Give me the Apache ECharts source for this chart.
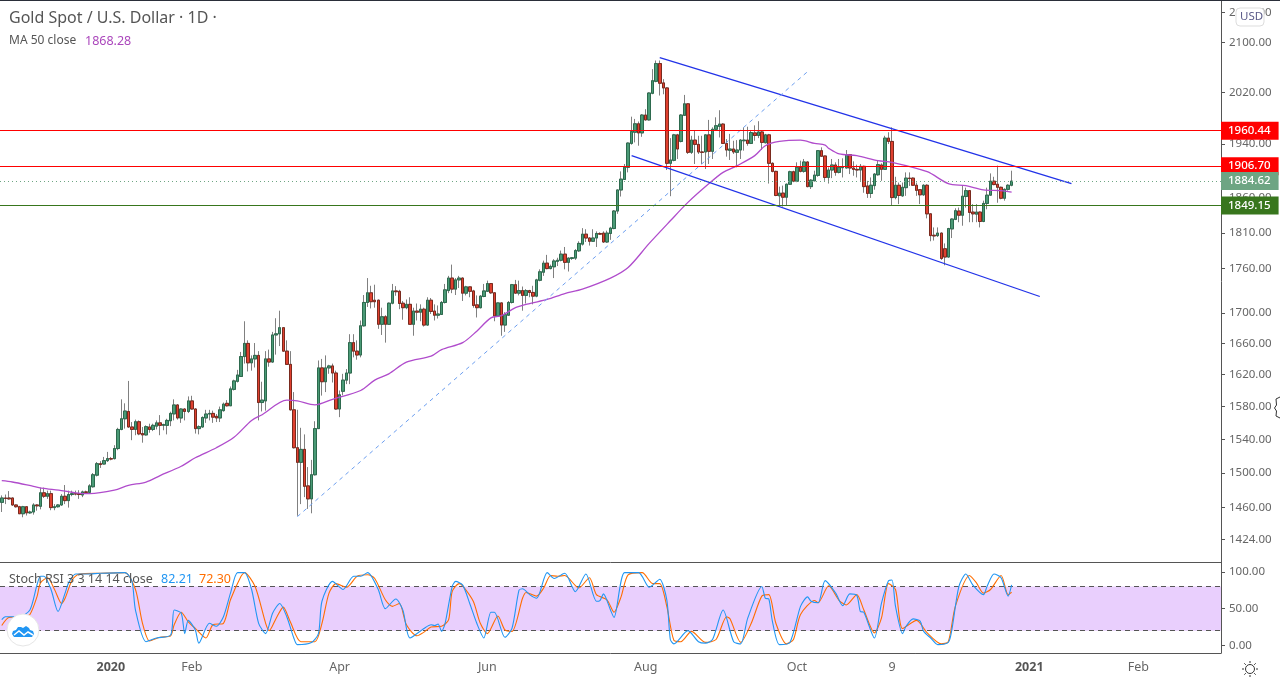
<!DOCTYPE html>
<html><head><meta charset="utf-8">
<style>html,body{margin:0;padding:0;background:#fff}#c{width:1280px;height:680px}</style>
<script src="https://cdn.jsdelivr.net/npm/echarts@6/dist/echarts.min.js"></script>
</head><body><div id="c"></div>
<script>
const opens=[1466,1471,1471,1471,1463,1461,1453,1461,1454,1455,
1463,1461.5,1477,1473,1476,1460,1461,1463,1473,1468,
1475,1476,1476,1474.5,1478,1477.5,1484,1497.5,1511,1510.6,
1514.6,1517,1517,1529,1552,1565,1574,1555,1552,1561.4,
1547,1545.4,1555,1552,1556,1560,1557,1557,1562.6,1571,
1582,1566,1577,1574,1587,1577,1553,1555,1566,1570.8,
1571.6,1568,1566,1575,1584,1581,1601.4,1611.5,1617.6,1643,
1660,1635,1640,1644.5,1585,1587,1640,1636,1671,1672.5,
1680.5,1650,1633,1576,1530,1512.6,1528,1485,1470,1498,
1553,1628.5,1611,1628.5,1631,1622,1577,1599,1613,1622,
1661,1650,1645,1683,1714,1727,1717,1717,1685,1695,
1685,1713,1729.5,1729,1713,1707,1711.5,1685,1702.5,1701,
1705,1684,1717,1702.5,1697,1698,1714,1730,1747,1732,
1744.5,1747,1726.5,1735,1729.5,1710.8,1707,1722,1729,1739.5,
1727,1696,1713.4,1684,1697,1714,1738,1726.5,1730,1723.5,
1730,1727.5,1722.5,1744,1755,1767.5,1760,1762.5,1770,1771.5,
1780,1768.6,1774,1774.5,1784.6,1794,1808,1802.6,1798,1802.6,
1809,1809.5,1797,1809,1816,1841,1871.6,1887,1905,1941,
1958,1971,1957,1984.5,1977,2018.5,2037.5,2066,2035,2027,
1911,1915.5,1954,1944,1984,2002,1927.5,1946,1939.5,1928,
1928,1954,1929,1962.5,1967,1970.5,1941,1930.5,1932.5,1927.5,
1931,1945,1946,1941,1957,1953,1958.4,1942,1954,1911,
1899,1863,1867,1861,1880,1898.5,1884.5,1905,1899,1913,
1876.5,1885,1893,1930,1922,1890,1901,1908.5,1897.5,1904.5,
1904,1924,1904,1902,1901,1906.5,1877.5,1866.5,1878,1894,
1908.5,1902,1949,1944,1860.5,1878.5,1863,1875,1889,1889,
1878.5,1872,1864.5,1878.5,1837,1806.5,1806,1809.5,1787.5,1776,
1815.5,1829,1841,1835,1862,1870.6,1839.5,1836.5,1839.5,1826,
1852,1864,1884.5,1880,1875.5,1859.5,1872.5,1878.5];
const closes=[1471,1470.5,1470,1463,1461,1453,1461,1454,1455,1463,
1462,1477,1473,1476,1460,1461,1463,1473,1468,1475,
1476,1475.5,1475,1478,1477.5,1485,1498,1511,1510,1514.6,
1517,1516.5,1529,1552,1565,1574.5,1555,1552,1561.4,1546.6,
1545.4,1555.4,1552,1557,1560,1557,1558,1563,1571.6,1582,
1566,1577,1574,1587,1577,1553,1555.4,1566.6,1570.8,1571.6,
1567,1566,1576,1583,1581,1602,1612,1619.5,1643,1660,
1635,1640,1644.5,1585,1588,1640,1636,1671,1672.5,1680.5,
1650,1633,1576,1530,1512.6,1528,1484.5,1470,1498,1553,
1628.5,1611,1628.5,1631,1622,1577,1594.6,1613,1622,1661,
1650,1645,1683,1714,1727,1715,1715,1685,1695,1685,
1713,1729.5,1728.5,1712.6,1707,1711.5,1685,1702.5,1701,1705,
1684,1717,1702,1697,1698.6,1714,1731,1747,1732,1744.5,
1747,1726.5,1735,1729,1710,1707,1722.5,1729.5,1739.5,1727,
1696,1713.4,1684,1697.7,1714,1738,1726.5,1730,1723.5,1730,
1727.5,1722.5,1744.5,1755.6,1767.5,1760,1763,1770.5,1771.5,1780,
1768.6,1774.5,1775,1785,1795,1808,1802.6,1798,1802.6,1809,
1808,1797,1809.5,1816.6,1841,1871.6,1887.5,1905,1941.5,1959,
1971,1957,1984.5,1977,2019,2038.5,2066,2034.5,2027,1911,
1916,1954,1932.5,1984.5,2002,1927.5,1946,1939.5,1928,1927.5,
1954,1929,1962.5,1968,1970.5,1941,1931,1932.5,1928,1931,
1946,1946,1941,1957.5,1953,1958.4,1942.5,1954,1911,1899,
1863.5,1867,1861,1880,1898.5,1884.5,1905,1899,1913,1876.5,
1886,1893.5,1930,1921.5,1890,1901,1908.5,1897.5,1905,1905,
1924,1904,1902,1901,1906.5,1876.5,1866.5,1878.5,1895,1909,
1902,1949,1944,1860.5,1878.5,1863.5,1875.5,1889,1888.5,1878.5,
1871,1864.5,1878.5,1837,1806,1805.5,1809.5,1774,1776,1816,
1829.5,1841.5,1835,1862.5,1870.6,1839,1837,1839.5,1826,1852,
1864,1884.5,1879.5,1875.5,1859.5,1872.5,1878.5,1884.62];
const lows=[1455,1464,1469,1462,1460,1453,1449,1451,1453,1452,
1456.5,1458,1471,1470,1457,1457,1460,1462,1464,1460,
1473,1474,1470,1472,1476,1476,1483,1496,1506,1510,
1513,1515,1516,1527,1551,1553,1554,1539,1545,1545,
1536,1544.6,1548,1550,1552,1545,1551,1546,1556,1563,
1564,1560,1563,1572,1576,1547,1546,1554,1560,1563,
1560,1561,1561,1573.7,1580,1581,1600,1610,1617,1634,
1624,1625,1629,1563,1574,1575,1630,1635,1645.5,1656.5,
1649,1632.5,1575,1529,1450.7,1464,1472,1458.5,1453.5,1497,
1553,1593.6,1598,1621,1610,1576,1567,1594,1608,1608,
1642,1639,1642,1682,1708,1706,1707,1679,1671,1661,
1684.5,1711.5,1723,1705,1691,1705,1684.5,1670,1690,1689,
1682,1683,1698.6,1690,1692.6,1697.5,1712.6,1726.5,1726.5,1724,
1733.5,1716,1723.5,1721,1707,1694,1706,1721,1728,1725.5,
1689,1695,1670,1675,1696,1712.6,1725.5,1723.5,1703,1712.6,
1721,1711.5,1721,1742.6,1750,1759,1759,1747,1763.5,1770,
1759,1756,1772,1772,1783,1792,1797,1792,1797,1790,
1807,1795.6,1795.6,1800,1815,1837,1862,1886.5,1897.5,1939,
1942.5,1937.5,1951,1976,1976,2017,2036,2015,2017,1901,
1862.5,1914,1917.5,1942.5,1983,1925,1925,1910,1925,1910,
1902.5,1910,1917.5,1960.4,1950,1940,1921,1916,1925,1905,
1917.5,1930,1937.5,1940,1945,1949,1931,1941,1881,1897.5,
1862.5,1848.5,1847.5,1848.5,1879,1883,1883,1897.5,1897,1875.5,
1873,1884.5,1891,1921,1885,1881,1889,1892.5,1896,1890,
1903.5,1895,1892.5,1890,1885,1867.5,1860,1860,1872,1892.5,
1885,1901.5,1940,1848.5,1858,1851,1861.5,1863,1877.5,1877.5,
1863,1851,1863,1830.5,1798,1799,1804,1772,1764.5,1775,
1802.5,1828,1825,1820,1846,1825,1825,1825,1817.6,1825,
1843.5,1863,1878.5,1853,1858,1856,1870.6,1877];
const highs=[1474,1475,1479,1471.5,1463.5,1462,1462,1461,1456.5,1465,
1464,1483,1483,1479.5,1479.5,1464,1464,1475.5,1486,1479.5,
1479.5,1479.5,1480,1479.5,1479.5,1487,1500,1513,1514,1519,
1525,1519,1533,1554,1589,1584,1612,1561,1564,1563,
1555,1557,1559,1559,1563,1569.5,1559,1565,1573.7,1589,
1583,1578,1578,1592.6,1593.4,1578,1557,1568,1576,1576,
1575,1570.8,1580,1585,1588,1605,1613.6,1626,1649,1689,
1664,1644.5,1660.5,1650,1611,1650,1652,1675,1693,1703,
1681,1664,1650,1598,1576,1554,1546,1507,1515.5,1562,
1638,1640,1644.5,1632.5,1634,1625,1600,1621,1627,1672,
1672,1664,1690,1724,1747,1736.5,1738,1718,1707,1697,
1714,1739,1736,1731,1716,1718,1721,1707,1712.6,1711.5,
1707,1721,1720,1711.5,1710,1716,1739,1750,1765.5,1747,
1750,1748,1736.5,1735.5,1731,1723.5,1724,1739,1743.5,1740,
1728,1714,1714,1701,1716,1739,1744.5,1743.5,1735.5,1732,
1731,1736.5,1746,1759,1771,1779,1765.5,1773,1775,1785,
1790,1775.6,1776,1787,1798,1816.6,1815,1803.6,1815,1812,
1810.6,1812,1813,1818.5,1842.5,1872,1899,1910,1942.5,1982,
1978.5,1974.5,1986,1993.6,2020,2057,2071,2071,2041,2028,
1949,1955.5,1955.5,1986,2016,2003,1952.6,1960.4,1952.6,1952.6,
1954.5,1977,1965.5,1981,1992,1972,1947.5,1955.5,1945,1946,
1947.5,1965.5,1966.5,1961.4,1968.6,1975,1960.4,1955.5,1955.5,1912.5,
1900,1876.5,1878,1881,1900,1900,1912.5,1915,1917.5,1914,
1887.5,1900,1931,1935,1922.5,1905,1917.5,1912.5,1917.5,1918.5,
1931,1925,1914,1909,1910,1907.5,1885,1890,1896.5,1915,
1911,1952.6,1958,1965.5,1891,1882.5,1882.5,1897.5,1897.5,1890,
1882.5,1873,1880,1880,1838,1817.6,1817.6,1810.5,1795,1817,
1830.5,1845,1846,1877.5,1875,1871.6,1851,1851,1840.5,1856,
1875,1896,1891,1907.5,1876.5,1874,1880,1900];

const maBars=[0,3,9,12,18,21,25,32,36,41,45,51,55,61,66,71,74,81,84,89,94,102,106,110,115,122,125,131,135,139,142,146,150,155,160,165,173,178,184,190,195,201,205,209,214,217,221,227,231,234,235,238,243,249,253,263,269,274,279,284,287];
const maValues=[1491,1489.5,1484.5,1482,1479,1477,1476,1480,1485.5,1489.5,1497,1508,1518,1530,1542.5,1563,1570,1588,1587,1582,1589,1600,1613,1621,1636,1643.5,1652,1661,1676,1693.5,1696.5,1707,1712.5,1718,1726,1732,1747,1761.5,1795,1827,1853.5,1881,1897.5,1907.5,1922.5,1937.5,1944,1946,1941,1938.5,1933.5,1925,1922.5,1915,1912.5,1898.5,1881,1877.8,1871.6,1870.6,1868.28];

const kBars=[0,1,5,8,10,11,12,14,16,18,19,21,24,28,35,37,38,41,44,48,49,51,52,53,55,56,59,61,63,65,67,69,71,73,75,77,79,81,83,84,88,90,91,94,97,100,102,104,107,109,112,114,116,120,122,123,124,125,126,128,129,131,133,135,137,139,140,143,145,147,148,150,152,155,157,160,163,166,169,170,171,173,174,177,181,184,185,187,189,190,191,195,198,200,202,205,208,210,212,216,217,218,219,221,224,227,229,230,232,234,237,239,241,243,244,245,248,250,252,253,254,256,257,259,261,262,264,266,269,270,272,274,276,279,280,282,284,286,287];
const kValues=[35,39,39,48,82,94,94,76,46,71,85,97,97,98,99,87,48,5,10,14,48,44,16,34,21,3,30,26,39,71,99,99,76,30,16,44,57,39,10,1,4,16,60,87,76,94,94,99,76,50,63,48,10,23,28,27,29,19,30,80,87,82,57,30,10,45,45,11,23,75,77,69,64,99,91,98,73,97,60,61,70,48,38,99,99,79,82,90,62,8,2,20,5,3,8,48,5,2,37,80,64,63,33,1,4,53,66,60,58,88,71,54,70,68,46,45,10,57,88,89,53,16,26,36,33,19,10,1,4,21,80,97,82,69,80,97,92,67,82.21];
const dBars=[0,2,6,8,10,11,13,15,17,18,20,22,28,35,38,40,42,45,48,49,51,53,55,58,60,63,65,68,69,72,75,76,78,80,82,85,89,91,93,95,98,101,104,106,109,111,113,115,118,120,122,125,127,128,130,131,134,136,138,141,143,145,148,149,152,154,156,158,160,164,167,169,172,174,176,178,182,185,187,189,191,193,196,200,203,206,207,210,213,216,218,220,223,225,227,231,232,235,238,240,243,245,248,250,252,254,256,260,263,267,269,271,275,277,279,281,284,286,287];
const dValues=[27,38,39,42,66,85,92,76,57,64,89,97,98,99,76,30,6,11,13,28,45,32,23,10,28,30,62,94,99,80,30,20,37,52,32,5,5,30,71,84,79,94,96,91,62,53,57,28,13,18,25,26,35,73,84,81,60,30,16,40,21,19,64,72,67,78,95,94,95,78,92,69,62,45,66,96,99,84,84,53,7,5,19,4,8,39,36,4,30,67,69,30,2,8,42,61,58,81,61,55,69,48,17,37,84,76,23,34,17,2,5,53,95,85,71,76,95,69,72.30];

const tickBars=[31,54,96,138,183,226,253,292,323];
const tickLabels=['2020','Feb','Apr','Jun','Aug','Oct','9','2021','Feb'];
const boldTicks=['2020','2021'];
const priceTicks=[2150,2100,2020,1940,1860,1810,1760,1700,1660,1620,1580,1540,1500,1460,1424];
const stochTicks=[0,50,100];
const barCount=347;
const categories=Array.from({length:barCount},(_,i)=>{const t=tickBars.indexOf(i);return t<0?String(i):tickLabels[t];});

const upperChannel=[[187,2075.5],[304,1881]];
const lowerChannel=[[179,1922.4],[295,1722]];
const dashedTrend=[[84,1449.7],[229,2053]];
const resistance=[1960.44,1906.70];
const support=1849.15;
const lastPrice=1884.62;

const FONT='"Noto Sans",sans-serif';
const wickData=opens.map((o,i)=>[o,closes[i],lows[i],highs[i]]);
const bodyData=opens.map((o,i)=>[o,closes[i],Math.min(o,closes[i]),Math.max(o,closes[i])]);
const tag=(bg)=>({show:true,position:'end',distance:0,formatter:p=>p.value.toFixed(2),color:'#fff',backgroundColor:bg,padding:[3,8,3,7],fontSize:11.5,fontFamily:FONT,fontWeight:500});
const lineSeries=(d,c,w,type)=>({type:'line',data:d,xAxisIndex:0,yAxisIndex:0,showSymbol:false,symbol:'none',silent:true,lineStyle:{color:c,width:w,type:type||'solid'},z:6,animation:false});
const gearRays=[[1250,661,1250,663],[1250,675,1250,677],[1242,669,1244,669],[1256,669,1258,669],[1244.3,663.3,1245.8,664.8],[1254.2,673.2,1255.7,674.7],[1244.3,674.7,1245.8,673.2],[1254.2,664.8,1255.7,663.3]];

const chart=echarts.init(document.getElementById('c'),null,{renderer:'canvas'});
chart.setOption({
 animation:false,backgroundColor:'#fff',
 grid:[{left:0,top:1,width:1221,height:561},{left:0,top:562,width:1221,height:91}],
 xAxis:[
  {type:'category',gridIndex:0,data:categories,boundaryGap:true,axisLine:{onZero:false,lineStyle:{color:'#555',width:1}},axisTick:{show:false},axisLabel:{show:false},splitLine:{show:false}},
  {type:'category',gridIndex:1,data:categories,boundaryGap:true,axisLine:{onZero:false,lineStyle:{color:'#555',width:1}},
   axisTick:{alignWithLabel:true,interval:i=>tickBars.includes(i),length:4,lineStyle:{color:'#555'}},
   axisLabel:{interval:i=>tickBars.includes(i),hideOverlap:false,margin:8,fontSize:12.5,fontFamily:FONT,color:'#666',
    formatter:v=>boldTicks.includes(v)?'{b|'+v+'}':v,rich:{b:{fontWeight:'bold',fontSize:12.5,color:'#555',fontFamily:FONT}}},splitLine:{show:false}}
 ],
 yAxis:[
  {type:'log',gridIndex:0,position:'right',min:1399.2,max:2169.6,logBase:10,axisLine:{show:true,lineStyle:{color:'#555',width:1}},
   axisTick:{show:true,length:4,customValues:priceTicks,lineStyle:{color:'#555'}},
   axisLabel:{customValues:priceTicks,margin:8,fontSize:11.5,fontFamily:FONT,color:'#666',padding:[3,0,0,0],formatter:v=>Number(v).toFixed(2)},splitLine:{show:false}},
  {type:'value',gridIndex:1,position:'right',min:-10.4,max:113.4,axisLine:{show:true,lineStyle:{color:'#555',width:1}},
   axisTick:{show:true,length:4,customValues:stochTicks,lineStyle:{color:'#555'}},
   axisLabel:{customValues:stochTicks,margin:8,fontSize:11.5,fontFamily:FONT,color:'#666',padding:[2,0,0,0],formatter:v=>Number(v).toFixed(2)},splitLine:{show:false}}
 ],
 series:[
  {type:'candlestick',name:'wick',xAxisIndex:0,yAxisIndex:0,data:wickData,barWidth:3,silent:true,z:3,
   itemStyle:{color:'rgba(0,0,0,0)',color0:'rgba(0,0,0,0)',borderColor:'#808080',borderColor0:'#808080',borderColorDoji:'#808080',borderWidth:1}},
  {type:'candlestick',name:'body',xAxisIndex:0,yAxisIndex:0,data:bodyData,barWidth:3,silent:true,z:4,
   itemStyle:{color:'#4a9a76',color0:'#e0402f',borderColor:'#2d6a4e',borderColor0:'#7a2a1e',borderColorDoji:'#6a2a20',borderWidth:1}},
  Object.assign(lineSeries(maBars.map((b,i)=>[b,maValues[i]]),'#b04ccc',1.3),{smooth:0.3,
   markLine:{silent:true,symbol:'none',animation:false,precision:2,z:7,data:[
    {yAxis:resistance[0],lineStyle:{color:'#ff0000',width:1.2,type:'solid'},label:tag('#ff0000')},
    {yAxis:resistance[1],lineStyle:{color:'#ff0000',width:1.2,type:'solid'},label:tag('#ff0000')},
    {yAxis:support,lineStyle:{color:'#38761d',width:1.2,type:'solid'},label:tag('#38761d')},
    {yAxis:lastPrice,lineStyle:{color:'#6ea583',width:1,type:[1,3]},label:tag('#6ea583')}
   ]}}),
  lineSeries(upperChannel,'#2233e8',1.3),
  lineSeries(lowerChannel,'#2233e8',1.3),
  lineSeries(dashedTrend,'#6d9ff0',1,[4,4]),
  {type:'line',xAxisIndex:1,yAxisIndex:1,data:kBars.map((b,i)=>[b,kValues[i]]),showSymbol:false,symbol:'none',silent:true,smooth:0.25,lineStyle:{color:'#2196f3',width:1.1},z:5,
   markArea:{silent:true,itemStyle:{color:'#e9cffd',opacity:1},data:[[{yAxis:20},{yAxis:80}]],z:1},
   markLine:{silent:true,symbol:'none',animation:false,label:{show:false},lineStyle:{color:'#555',width:1,type:[5,4]},data:[{yAxis:80},{yAxis:20}],z:2}},
  {type:'line',xAxisIndex:1,yAxisIndex:1,data:dBars.map((b,i)=>[b,dValues[i]]),showSymbol:false,symbol:'none',silent:true,smooth:0.25,lineStyle:{color:'#ff6d00',width:1.1},z:4}
 ],
 graphic:[
  {type:'rect',shape:{x:0,y:0,width:1280,height:1},style:{fill:'#2a2e39'},z:50},
  {type:'text',x:9,y:10,style:{text:'Gold Spot / U.S. Dollar · 1D ·',font:'16px '+FONT,fill:'#555'},z:50},
  {type:'text',x:9,y:35,style:{text:'MA 50 close',font:'12px '+FONT,fill:'#555'},z:50},
  {type:'text',x:85,y:35,style:{text:'1868.28',font:'12.5px '+FONT,fill:'#ab47bc'},z:50},
  {type:'text',x:9,y:573,style:{text:'Stoch RSI 3 3 14 14 close',font:'12.5px '+FONT,fill:'#555'},z:50},
  {type:'text',x:161,y:573,style:{text:'82.21',font:'12.5px '+FONT,fill:'#2196f3'},z:50},
  {type:'text',x:199,y:573,style:{text:'72.30',font:'12.5px '+FONT,fill:'#ff6d00'},z:50},
  {type:'rect',shape:{x:1236,y:8,width:28,height:18,r:4},style:{fill:'#fff',stroke:'#ddd',lineWidth:1},z:60},
  {type:'text',x:1240,y:11,style:{text:'USD',font:'11.5px '+FONT,fill:'#5a5a88'},z:61},
  {type:'circle',shape:{cx:23,cy:630,r:16},style:{fill:'#fff',stroke:'#e6e6e6',lineWidth:1},z:60},
  {type:'polygon',shape:{points:[[14,637],[12,634],[13,631],[16,630],[18,627],[21,627],[23,628],[26,626],[29,628],[30,630],[33,631],[34,634],[32,637]]},style:{fill:'#2196f3'},z:61},
  {type:'polyline',shape:{points:[[14,635],[19,631],[24,635],[28,632],[33,635]]},style:{stroke:'#fff',lineWidth:1.5,fill:null},z:62},
  {type:'circle',shape:{cx:1250,cy:669,r:4.5},style:{fill:'#fff',stroke:'#333',lineWidth:1},z:60},
  ...gearRays.map(r=>({type:'line',shape:{x1:r[0],y1:r[1],x2:r[2],y2:r[3]},style:{stroke:'#333',lineWidth:1},z:60})),
  {type:'polyline',shape:{points:[[1280,397],[1276,399],[1276.5,405],[1274.5,408],[1276.5,411],[1276,416],[1280,418]]},style:{stroke:'#333',lineWidth:1,fill:null},z:60}
 ]
});
</script></body></html>
